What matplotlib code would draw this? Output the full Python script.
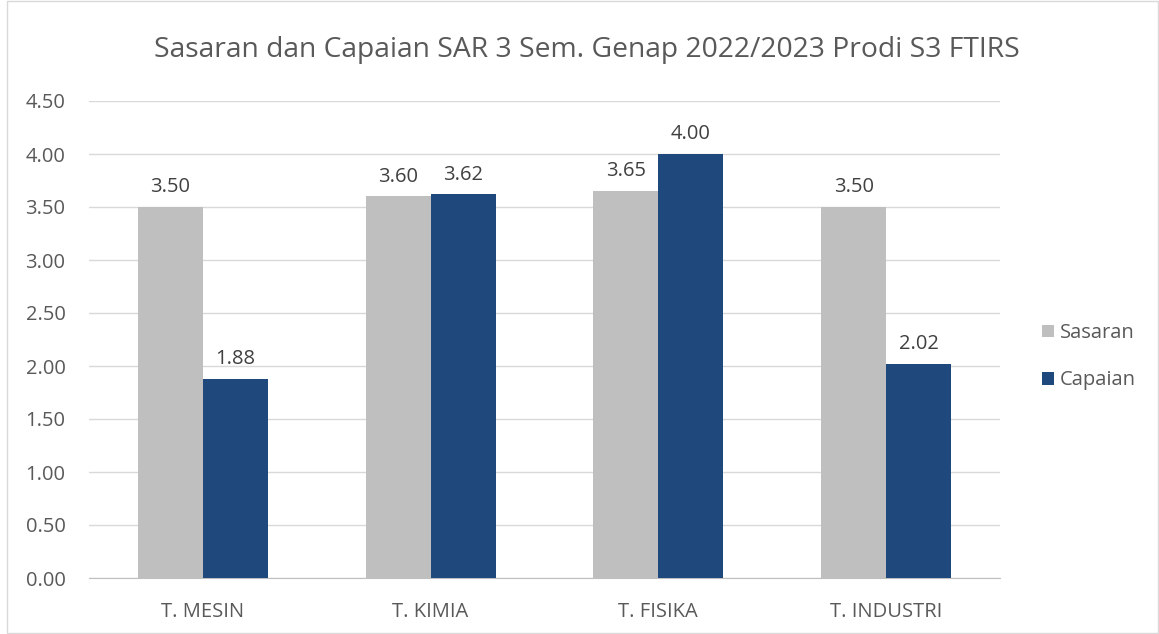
import numpy as np
import matplotlib.pyplot as plt

categories = ['T. MESIN', 'T. KIMIA', 'T. FISIKA', 'T. INDUSTRI']
sasaran = [3.50, 3.60, 3.65, 3.50]
capaian = [1.88, 3.62, 4.00, 2.02]
yticks = [0.0, 0.5, 1.0, 1.5, 2.0, 2.5, 3.0, 3.5, 4.0, 4.5]

plt.rcParams['font.family'] = ['Open Sans', 'DejaVu Sans']

fig = plt.figure(figsize=(11.59, 6.34), dpi=100)
ax = fig.add_axes([89 / 1159, 56 / 634, 911 / 1159, 477 / 634])

x = np.arange(len(categories))
w = 0.285
b1 = ax.bar(x - w / 2, sasaran, w, color='#BFBFBF', label='Sasaran', zorder=3)
b2 = ax.bar(x + w / 2, capaian, w, color='#1F487C', label='Capaian', zorder=3)

# value labels above each bar
for bars in (b1, b2):
    for bar in bars:
        h = bar.get_height()
        ax.annotate(f'{h:.2f}', (bar.get_x() + bar.get_width() / 2, h),
                    xytext=(0, 7), textcoords='offset points',
                    ha='center', va='bottom', fontsize=14.5, color='#404040')

ax.set_xlim(-0.5, len(categories) - 0.5)
ax.set_ylim(0, 4.5)
ax.set_yticks(yticks)
ax.set_yticklabels([f'{v:.2f}' for v in yticks])
ax.set_xticks(x)
ax.set_xticklabels(categories)
ax.tick_params(axis='both', length=0, labelsize=14.5, labelcolor='#595959')
ax.tick_params(axis='y', pad=17)
ax.tick_params(axis='x', pad=17)
ax.grid(axis='y', color='#D9D9D9', linewidth=1, zorder=0)
for s in ['top', 'right', 'left']:
    ax.spines[s].set_visible(False)
ax.spines['bottom'].set_color('#BFBFBF')

fig.text(587 / 1159, 1 - 50 / 634, 'Sasaran dan Capaian SAR 3 Sem. Genap 2022/2023 Prodi S3 FTIRS',
         ha='center', va='center', fontsize=20.3, color='#595959')

ax.legend(loc='center left', bbox_to_anchor=(1.026, 0.464), frameon=False,
          fontsize=14.5, labelcolor='#595959', handlelength=0.6, handleheight=0.6,
          handletextpad=0.3, labelspacing=1.35)

# thin border round the chart
fig.patches.append(plt.Rectangle((0.006, 0.001), 0.993, 0.997, transform=fig.transFigure,
                                 fill=False, edgecolor='#D9D9D9', linewidth=1))

fig.savefig('out.png', dpi=100)
